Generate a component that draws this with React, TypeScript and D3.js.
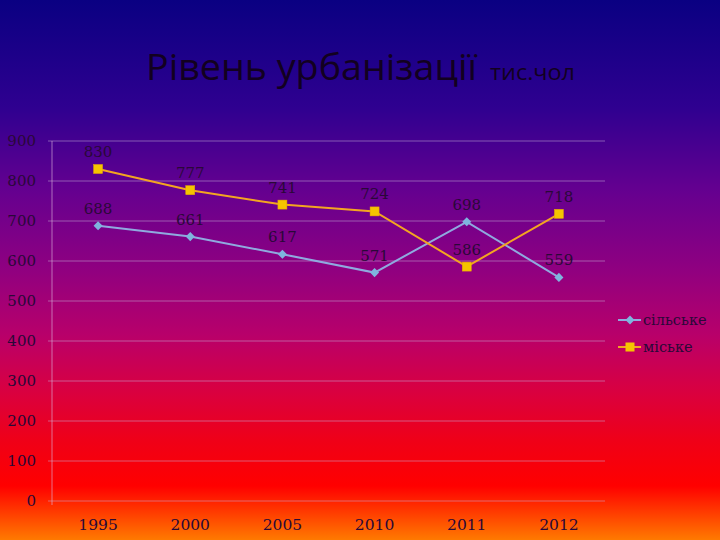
import React from "react";
import * as d3 from "d3";

const categories = ["1995", "2000", "2005", "2010", "2011", "2012"];
const rural = [688, 661, 617, 571, 698, 559];
const urban = [830, 777, 741, 724, 586, 718];
const yTicks = [0, 100, 200, 300, 400, 500, 600, 700, 800, 900];
const seriesNames = ["сільське", "міське"];

const W = 720;
const H = 540;
const M = { left: 52, right: 605, top: 141, bottom: 501 };

export default function App() {
  const x = d3.scaleBand().domain(categories).range([M.left, M.right]);
  const y = d3.scaleLinear().domain([0, 900]).range([M.bottom, M.top]);
  const cx = (c: string) => (x(c) as number) + x.bandwidth() / 2;
  const line = d3
    .line<number>()
    .x((_, i) => cx(categories[i]))
    .y((d) => y(d));
  const serif = "'DejaVu Serif', 'Liberation Serif', serif";
  const labelColor = "#2a0838";
  const ruralColor = "#8fa9df";
  const ruralMarker = "#7fb4de";
  const urbanColor = "#f3a521";
  const urbanMarker = "#f5c400";
  const Diamond = ({ tx, ty }: { tx: number; ty: number }) => (
    <rect
      x={-3.2}
      y={-3.2}
      width={6.4}
      height={6.4}
      fill={ruralMarker}
      transform={`translate(${tx},${ty}) rotate(45)`}
    />
  );

  return (
    <svg
      width={W}
      height={H}
      style={{ position: "absolute", left: 0, top: 0 }}
    >
      <defs>
        <linearGradient id="bg" x1="0" y1="0" x2="0" y2="1">
          <stop offset="0" stopColor="#0a0082" />
          <stop offset="0.2" stopColor="#2f0090" />
          <stop offset="0.35" stopColor="#640090" />
          <stop offset="0.5" stopColor="#900080" />
          <stop offset="0.62" stopColor="#b8006a" />
          <stop offset="0.72" stopColor="#d80042" />
          <stop offset="0.82" stopColor="#f00016" />
          <stop offset="0.9" stopColor="#ff0000" />
          <stop offset="1" stopColor="#ff7a00" />
        </linearGradient>
      </defs>
      <rect x={0} y={0} width={W} height={H} fill="url(#bg)" />

      <text
        x={146}
        y={80}
        fontFamily="'Open Sans', 'Noto Sans', sans-serif"
        fontSize={37}
        fill="#120020"
        textLength={331}
        lengthAdjust="spacingAndGlyphs"
      >
        Рівень урбанізації
      </text>
      <text
        x={490}
        y={80}
        fontFamily="'Open Sans', 'Noto Sans', sans-serif"
        fontSize={22}
        fill="#120020"
        textLength={85}
        lengthAdjust="spacingAndGlyphs"
      >
        тис.чол
      </text>

      {yTicks.map((t) => (
        <g key={t}>
          <line
            x1={M.left - 4}
            x2={M.right}
            y1={y(t)}
            y2={y(t)}
            stroke="#c8b0d8"
            strokeOpacity={0.5}
            strokeWidth={1}
          />
          <text
            x={36}
            y={y(t)}
            dy="0.35em"
            textAnchor="end"
            fontFamily={serif}
            fontSize={15}
            fill={labelColor}
          >
            {t}
          </text>
        </g>
      ))}
      <line
        x1={M.left}
        x2={M.left}
        y1={M.top}
        y2={M.bottom + 4}
        stroke="#e0b8e0"
        strokeOpacity={0.6}
      />

      {categories.map((c) => (
        <text
          key={c}
          x={cx(c)}
          y={530}
          textAnchor="middle"
          fontFamily={serif}
          fontSize={15.5}
          fill={labelColor}
        >
          {c}
        </text>
      ))}

      <path d={line(rural) as string} fill="none" stroke={ruralColor} strokeWidth={2} />
      <path d={line(urban) as string} fill="none" stroke={urbanColor} strokeWidth={2} />

      {rural.map((v, i) => (
        <g key={"r" + i}>
          <Diamond tx={cx(categories[i])} ty={y(v)} />
          <text
            x={cx(categories[i])}
            y={y(v) - 12}
            textAnchor="middle"
            fontFamily={serif}
            fontSize={15}
            fill={labelColor}
          >
            {v}
          </text>
        </g>
      ))}
      {urban.map((v, i) => (
        <g key={"u" + i}>
          <rect
            x={cx(categories[i]) - 4.5}
            y={y(v) - 4.5}
            width={9}
            height={9}
            fill={urbanMarker}
            stroke="#e8a800"
            strokeWidth={0.5}
          />
          <text
            x={cx(categories[i])}
            y={y(v) - 12}
            textAnchor="middle"
            fontFamily={serif}
            fontSize={15}
            fill={labelColor}
          >
            {v}
          </text>
        </g>
      ))}

      {seriesNames.map((n, i) => {
        const ly = 320 + i * 27;
        return (
          <g key={n}>
            <line
              x1={618}
              x2={641}
              y1={ly}
              y2={ly}
              stroke={i === 0 ? ruralColor : urbanColor}
              strokeWidth={2}
            />
            {i === 0 ? (
              <Diamond tx={630} ty={ly} />
            ) : (
              <rect x={625.5} y={ly - 4.5} width={9} height={9} fill={urbanMarker} />
            )}
            <text
              x={643}
              y={ly}
              dy="0.35em"
              fontFamily={serif}
              fontSize={14.5}
              fill={labelColor}
            >
              {n}
            </text>
          </g>
        );
      })}
    </svg>
  );
}
